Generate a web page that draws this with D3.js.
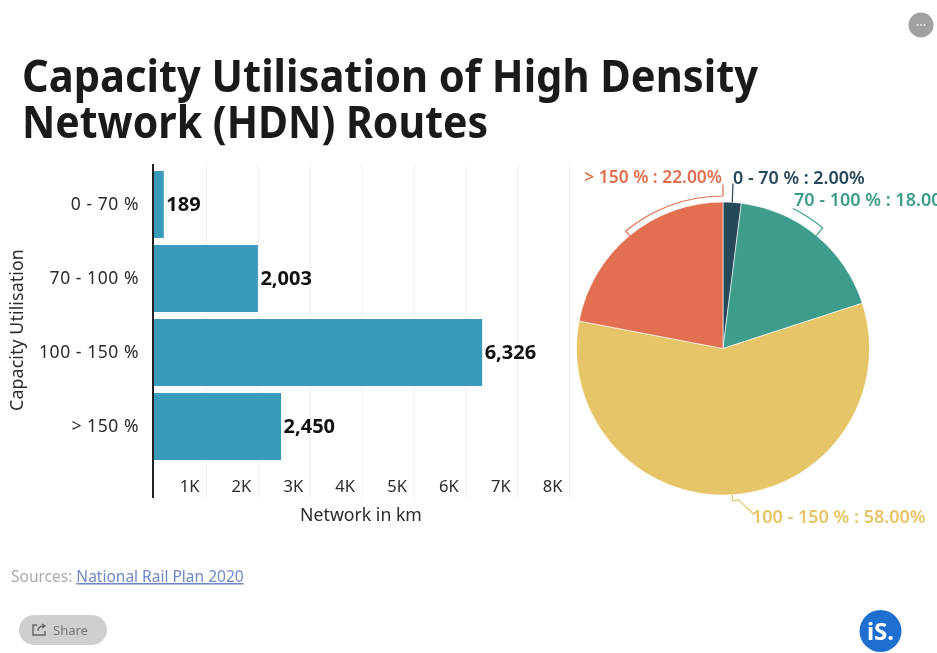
<!DOCTYPE html>
<html><head><meta charset="utf-8">
<script src="https://cdn.jsdelivr.net/npm/d3@7"></script>
<style>
html,body{margin:0;padding:0;background:#fff;overflow:hidden}
svg{display:block;filter:blur(.6px)}
text{font-family:"Noto Sans",sans-serif}
</style></head><body>
<svg id="c" width="937" height="653"></svg>
<script>
const titleLines = ["Capacity Utilisation of High Density", "Network (HDN) Routes"];
const categories = ["0 - 70 %", "70 - 100 %", "100 - 150 %", "> 150 %"];
const networkKm = [189, 2003, 6326, 2450];
const sharePct = [2, 18, 58, 22];
const sliceColors = ["#26495a", "#3d9c8c", "#e6c468", "#e27050"];
const xTicks = [1000,2000,3000,4000,5000,6000,7000,8000];

const svg = d3.select("#c");
const dark = "#2b2b2b";
const labelSize = 17;

svg.selectAll("text.title").data(titleLines).join("text").attr("class","title")
  .attr("x",22).attr("y",(d,i)=>91.5+i*46.5)
  .attr("font-size",45).attr("font-weight",700).attr("fill","#1a1a1a")
  .attr("textLength",(d,i)=>i?466:736).attr("lengthAdjust","spacingAndGlyphs")
  .text(d=>d);

// bar panel
const x = d3.scaleLinear().domain([0,8000]).range([154,569]);
const y = d3.scaleBand().domain(categories).range([167.5,463.5]).paddingInner(0.095).paddingOuter(0.047);

const xAxis = svg.append("g").attr("transform","translate(0,498)")
  .call(d3.axisBottom(x).tickValues(xTicks).tickSize(-334).tickPadding(0).tickFormat(d=>d/1000+"K"));
xAxis.select(".domain").remove();
xAxis.selectAll("line").attr("stroke","#eeeeee");
xAxis.selectAll("text").attr("text-anchor","end").attr("dx",-7).attr("y",-6)
  .attr("font-size",labelSize-.5).attr("fill",dark).attr("dy",0);

svg.selectAll("rect.bar").data(networkKm).join("rect").attr("class","bar")
  .attr("x",x(0)).attr("y",(d,i)=>y(categories[i]))
  .attr("width",d=>x(d)-x(0)).attr("height",y.bandwidth()).attr("fill","#3a9abb");

const yAxis = svg.append("g").attr("transform","translate(153,0)")
  .call(d3.axisLeft(y).tickSize(0).tickPadding(14));
yAxis.select(".domain").remove();
yAxis.selectAll("text").attr("font-size",labelSize+.5).attr("letter-spacing",.55).attr("fill",dark);
svg.append("line").attr("x1",153).attr("x2",153).attr("y1",164).attr("y2",498)
  .attr("stroke","#222").attr("stroke-width",2);

svg.selectAll("text.val").data(networkKm).join("text").attr("class","val")
  .attr("x",d=>x(d)+2.5).attr("y",(d,i)=>y(categories[i])+y.bandwidth()/2+6.5)
  .attr("font-size",20).attr("font-weight",700).attr("fill","#111")
  .text(d3.format(","));

svg.append("text").attr("transform","translate(22.5,330) rotate(-90)").attr("text-anchor","middle")
  .attr("font-size",labelSize+.8).attr("letter-spacing",.1).attr("fill",dark).text("Capacity Utilisation");
svg.append("text").attr("x",361).attr("y",521).attr("text-anchor","middle")
  .attr("font-size",labelSize+.7).attr("fill",dark).text("Network in km");

// pie panel
const cx=723, cy=348.5, R=146.5;
const pie = d3.pie().sort(null)(sharePct);
const g = svg.append("g").attr("transform",`translate(${cx},${cy})`);
g.selectAll("path").data(pie).join("path")
  .attr("d",d3.arc().innerRadius(0).outerRadius(R))
  .attr("fill",(d,i)=>sliceColors[i]).attr("stroke","#fff").attr("stroke-width",.6);

// leader: from slice mid-angle outward, along an arc, then to the label
const pt=(a,r)=>[r*Math.sin(a), -r*Math.cos(a)];
const deg=Math.PI/180;
const leaders=[
 {r:R+1, a1:null, end:[10,-165], lx:10, ly:-165, size:labelSize+.9, text:"0 - 70 % : 2.00%", anchor:"start"},
 {r:R+10, a1:26.6*deg, end:[70,-140], lx:71, ly:-143, size:labelSize+1, text:"70 - 100 % : 18.00%", anchor:"start"},
 {r:R+6, a1:174*deg, end:[31,166], lx:29, ly:174.5, size:labelSize+1, text:"100 - 150 % : 58.00%", anchor:"start"},
 {r:R+6, a1:360*deg, end:[0,-164], lx:-1, ly:-166, size:labelSize+.4, text:"> 150 % : 22.00%", anchor:"end"}
];
leaders.forEach((l,i)=>{
  const d=pie[i], mid=(d.startAngle+d.endAngle)/2, p0=pt(mid,R);
  let path="M"+p0+"L"+pt(mid,l.r);
  if(l.a1!==null){
    path+=`A${l.r},${l.r} 0 0 ${l.a1>mid?1:0} ${pt(l.a1,l.r)}`;
  }
  path+="L"+l.end;
  g.append("path").attr("d",path).attr("fill","none").attr("stroke",sliceColors[i]).attr("stroke-width",1.2);
  g.append("text").attr("x",l.lx).attr("y",l.ly).attr("text-anchor",l.anchor)
    .attr("font-size",l.size).attr("font-weight",600).attr("fill",sliceColors[i]).text(l.text);
});

// footer
const src=svg.append("text").attr("x",11).attr("y",582).attr("font-size",15.5).attr("fill","#aaa");
src.append("tspan").text("Sources: ");
src.append("tspan").attr("fill","#6f88c9").attr("text-decoration","underline").text("National Rail Plan 2020");

svg.append("rect").attr("x",19).attr("y",615).attr("width",88).attr("height",30).attr("rx",15).attr("fill","#cfcfcf");
svg.append("path").attr("d","M37 625H33V635H45V631M38 631C38 627 41 626 44 626M42 624L45 626L42 628")
  .attr("fill","none").attr("stroke","#666").attr("stroke-width",1.4);
svg.append("text").attr("x",53).attr("y",635).attr("font-size",13).attr("fill","#777").text("Share");

svg.append("circle").attr("cx",921).attr("cy",25).attr("r",12.5).attr("fill","#a0a0a0");
svg.selectAll("circle.dot").data([-3.5,0,3.5]).join("circle").attr("class","dot")
  .attr("cx",d=>921+d).attr("cy",25).attr("r",1.1).attr("fill","#e4e4e4");

svg.append("circle").attr("cx",880.5).attr("cy",631).attr("r",21).attr("fill","#1f6fd1");
svg.append("text").attr("x",880.5).attr("y",640).attr("text-anchor","middle")
  .attr("font-size",24).attr("font-weight",700).attr("fill","#fff").text("iS.");
</script></body></html>
